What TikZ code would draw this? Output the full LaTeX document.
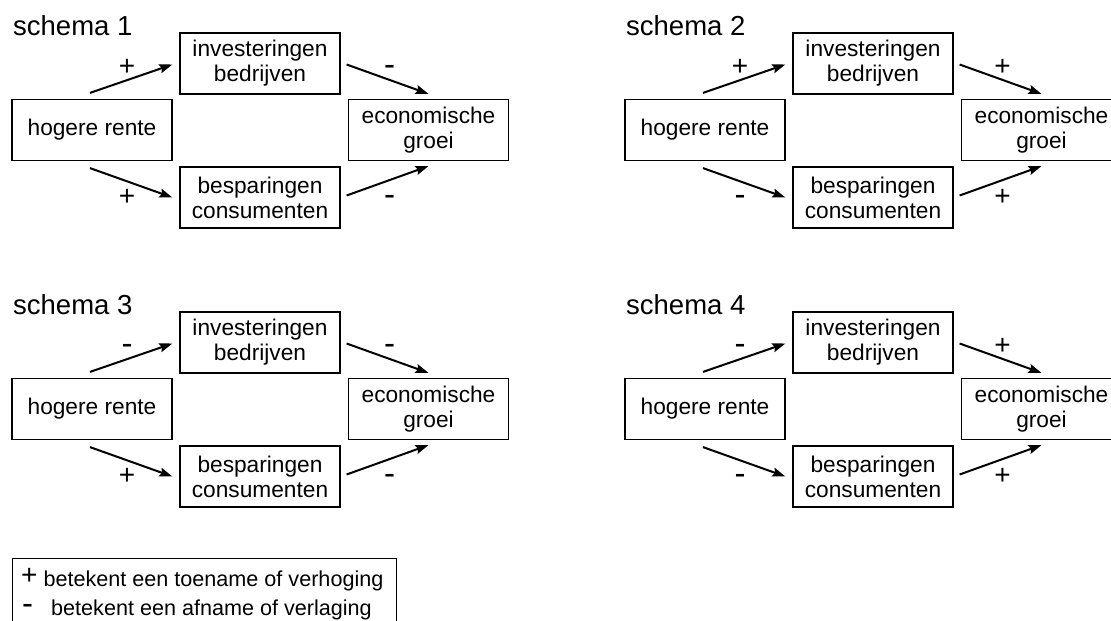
\documentclass[tikz,border=0pt]{standalone}
\usepackage{fontspec}
\setmainfont{Liberation Sans}
\usetikzlibrary{arrows.meta,calc}
\newcommand\pl{{\fontsize{28}{28}\selectfont+}}
\newcommand\mn{{\fontsize{33}{33}\selectfont-}}
\tikzset{
  box/.style={draw, line width=1.2pt, minimum width=160pt, minimum height=61pt, inner sep=0pt, align=center,
    font=\fontsize{22.7}{25}\selectfont},
  ttl/.style={anchor=base west, inner sep=0pt, font=\fontsize{27.5}{30}\selectfont},
  sign/.style={anchor=base, inner sep=0pt},
  arr/.style={line width=2pt, -{Stealth[length=13pt,width=9pt,inset=2pt]}},
  legtxt/.style={anchor=base west, inner sep=0pt, font=\fontsize{21.6}{25}\selectfont},
}
\newcommand\myschema[7]{%
  \begin{scope}[shift={(#2,#3)}]
    \node[ttl] (t#1) at (13,35) {schema #1};
    \node[box] (hr#1) at (92,130) {hogere rente};
    \node[box] (inv#1) at (260,63.5) {investeringen\\bedrijven};
    \node[box] (bes#1) at (260,197.5) {besparingen\\consumenten};
    \node[box] (eg#1) at (428.5,130) {economische\\groei};
    \draw[arr] ([xshift=-2pt,yshift=6pt]hr#1.north) -- ([xshift=-7pt,yshift=-1pt]inv#1.west);
    \draw[arr] ([xshift=6pt,yshift=-1pt]inv#1.east) -- ([yshift=5pt]eg#1.north);
    \draw[arr] ([xshift=-2pt,yshift=-7pt]hr#1.south) -- ([xshift=-7pt]bes#1.west);
    \draw[arr] ([xshift=6pt,yshift=2pt]bes#1.east) -- ([yshift=-5pt]eg#1.south);
    \node[sign] (s1#1) at (127,75.5) {#4};
    \node[sign] (s2#1) at (389.5,75.5) {#5};
    \node[sign] (s3#1) at (127,205.5) {#6};
    \node[sign] (s4#1) at (389.5,205.5) {#7};
  \end{scope}}
\begin{document}
\begin{tikzpicture}[x=1pt,y=-1pt]
  \clip (0,0) rectangle (1111,621);
  \fill[white] (0,0) rectangle (1111,621);
  \myschema{1}{0}{0}{\pl}{\mn}{\pl}{\mn}
  \myschema{2}{613}{0}{\pl}{\pl}{\mn}{\pl}
  \myschema{3}{0}{279}{\mn}{\mn}{\pl}{\mn}
  \myschema{4}{613}{279}{\mn}{\pl}{\mn}{\pl}
  \node[draw, line width=1.2pt, anchor=north west, minimum width=384pt, minimum height=90pt, inner sep=0pt] (leg) at (12,558) {};
  \node[legtxt] (l1) at (21,586) {\raisebox{2pt}{\pl}\hspace{6pt}betekent een toename of verhoging};
  \node[legtxt] (l2) at (22,615) {\raisebox{1pt}{\mn}\hspace{18pt}betekent een afname of verlaging};
\end{tikzpicture}
\end{document}
